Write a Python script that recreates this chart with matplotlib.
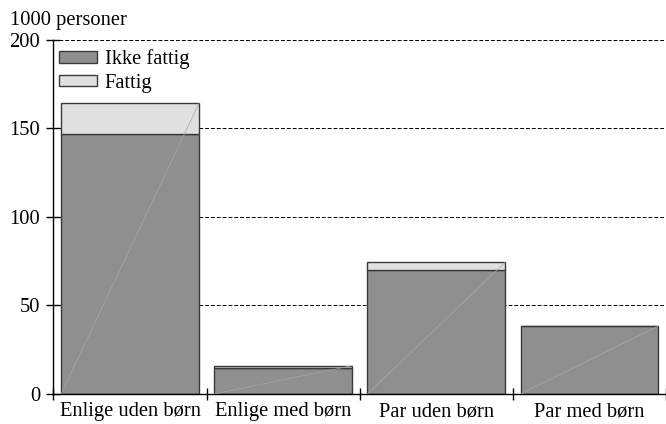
import matplotlib
matplotlib.use("Agg")
import matplotlib.pyplot as plt
import numpy as np

plt.rcParams.update({
    'font.family': 'Liberation Serif',
    'font.size': 14.8,
    'axes.linewidth': 1.0,
})

# data (1000 personer)
categories = ["Enlige uden børn", "Enlige med børn", "Par uden børn", "Par med børn"]
ikke_fattig = [146.9, 14.5, 70.0, 38.4]
fattig = [17.3, 1.5, 4.4, 0.0]
y_ticks = [0, 50, 100, 150, 200]

dark = "#8f8f8f"
light = "#e0e0e0"
edge = "#3a3a3a"

fig = plt.figure(figsize=(6.66, 4.24), dpi=100)
ax = fig.add_axes([0.0803, 0.0708, 0.9197, 0.8349])

x = np.arange(len(categories))
w = 0.9
ax.bar(x, ikke_fattig, width=w, color=dark, edgecolor=edge, linewidth=1.0,
       label="Ikke fattig", zorder=2)
ax.bar(x, fattig, width=w, bottom=ikke_fattig, color=light, edgecolor=edge,
       linewidth=1.0, label="Fattig", zorder=2)

# faint diagonal rendering streak seen on the original bars
for xi, h in zip(x, np.add(ikke_fattig, fattig)):
    ax.plot([xi - w / 2, xi + w / 2], [0, h], color="#a6a6a6", lw=0.5, zorder=3)

ax.set_xlim(-0.5, len(categories) - 0.5)
ax.set_ylim(0, 200)
ax.set_yticks(y_ticks)
ax.yaxis.grid(True, linestyle=(0, (4, 2)), color="black", linewidth=0.7)
ax.set_axisbelow(True)

ax.set_xticks(np.arange(-0.5, len(categories), 1.0))
ax.set_xticklabels([])
ax.set_xticks(x, minor=True)
ax.set_xticklabels(categories, minor=True)
ax.tick_params(axis='x', which='minor', length=0, pad=6)
ax.tick_params(axis='x', which='major', direction='inout', length=8, width=1)
ax.tick_params(axis='y', direction='inout', length=10, width=1, pad=4.5)

for s in ["top", "right"]:
    ax.spines[s].set_visible(False)

fig.text(0.015, 0.952, "1000 personer", ha="left", va="center", fontsize=14.8)

leg = ax.legend(loc="upper left", bbox_to_anchor=(-0.006, 1.0), frameon=False,
                handlelength=1.85, handleheight=0.5, handletextpad=0.38,
                labelspacing=0.22, borderaxespad=0.15, borderpad=0.3)

fig.savefig("out.png", dpi=100)
